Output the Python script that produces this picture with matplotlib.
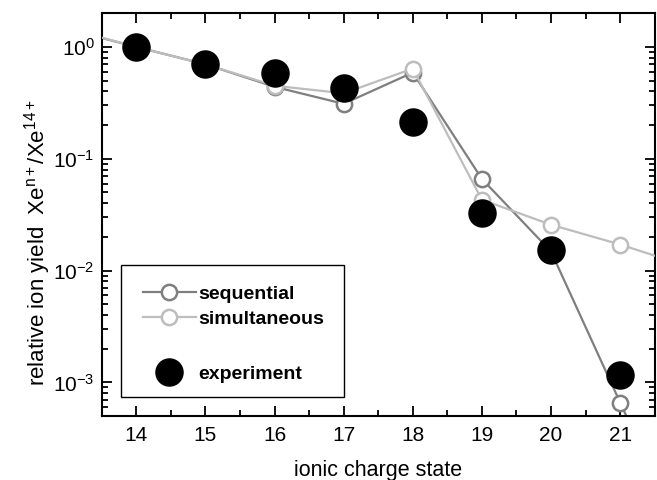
import matplotlib
matplotlib.use("Agg")
import matplotlib.pyplot as plt
from matplotlib.lines import Line2D
from matplotlib.patches import Rectangle
from matplotlib.ticker import LogLocator, MultipleLocator, LogFormatterMathtext, NullFormatter

plt.rcParams['font.family'] = ['Liberation Sans', 'DejaVu Sans']
plt.rcParams['mathtext.fontset'] = 'custom'
plt.rcParams['mathtext.rm'] = 'Liberation Sans'
plt.rcParams['mathtext.it'] = 'Liberation Sans'
plt.rcParams['mathtext.bf'] = 'Liberation Sans:bold'

# data
charge_theory = [13, 14, 15, 16, 17, 18, 19, 20, 21, 22]
sequential = [1.45, 1.0, 0.70, 0.44, 0.31, 0.59, 0.066, 0.0148, 0.00066, 0.00003]
simultaneous = [1.47, 1.0, 0.70, 0.45, 0.385, 0.64, 0.043, 0.0257, 0.0171, 0.0108]
charge_exp = [14, 15, 16, 17, 18, 19, 20, 21]
experiment = [1.0, 0.71, 0.59, 0.43, 0.213, 0.0327, 0.0153, 0.00117]
xticks = [14, 15, 16, 17, 18, 19, 20, 21]

seq_color = '#7f7f7f'
sim_color = '#bdbdbd'

fig = plt.figure(figsize=(6.57, 4.8), dpi=100)
ax = fig.add_axes([0.1548, 0.1333, 0.8417, 0.839])

ax.plot(charge_theory, sequential, '-o', color=seq_color, lw=1.6,
        ms=11, mfc='white', mec=seq_color, mew=1.8, zorder=2)
ax.plot(charge_theory, simultaneous, '-o', color=sim_color, lw=1.6,
        ms=11, mfc='white', mec=sim_color, mew=1.8, zorder=3)
ax.plot(charge_exp, experiment, 'o', color='black', ms=19.5, zorder=4, ls='none')

ax.set_yscale('log')
ax.set_xlim(13.5, 21.5)
ax.set_ylim(5e-4, 2.0)
ax.set_xticks(xticks)
ax.xaxis.set_minor_locator(MultipleLocator(0.5))
ax.yaxis.set_major_locator(LogLocator(base=10, numticks=10))
ax.yaxis.set_minor_locator(LogLocator(base=10, subs=range(2, 10), numticks=10))
ax.yaxis.set_major_formatter(LogFormatterMathtext())
ax.yaxis.set_minor_formatter(NullFormatter())

ax.tick_params(which='both', direction='in', top=True, right=True, width=1.3, labelsize=15)
ax.tick_params(which='major', length=7, pad=5)
ax.tick_params(axis='x', which='major', pad=7)
ax.tick_params(which='minor', length=4)
for s in ax.spines.values():
    s.set_linewidth(1.5)

ax.set_xlabel('ionic charge state', fontsize=15.5, labelpad=11)
ax.set_ylabel(r'relative ion yield  Xe$^{\mathrm{n+}}$/Xe$^{\mathrm{14+}}$', fontsize=16)
ax.yaxis.set_label_coords(-0.088, 0.431)

# legend frame
ax.add_patch(Rectangle((0.0344, 0.048), 0.4038, 0.327, transform=ax.transAxes,
                       facecolor='white', edgecolor='black', lw=1.0, zorder=4.5))

handles = [
    Line2D([], [], color=seq_color, lw=1.6, marker='o', ms=11, mfc='white', mec=seq_color, mew=1.8),
    Line2D([], [], color=sim_color, lw=1.6, marker='o', ms=11, mfc='white', mec=sim_color, mew=1.8),
    Line2D([], [], color='none', lw=0),
    Line2D([], [], color='black', marker='o', ms=19.5, ls='none'),
]
labels = ['sequential', 'simultaneous', ' ', 'experiment']
leg = ax.legend(handles, labels, loc='lower left', bbox_to_anchor=(0.0505, 0.048),
                prop={'weight': 'bold', 'size': 14}, frameon=False,
                handlelength=2.7, handletextpad=0.15,
                labelspacing=0.38, borderpad=0.7, borderaxespad=0)
leg.get_texts()[2].set_fontsize(17)
leg.set_zorder(5)

fig.savefig('out.png', dpi=100)
